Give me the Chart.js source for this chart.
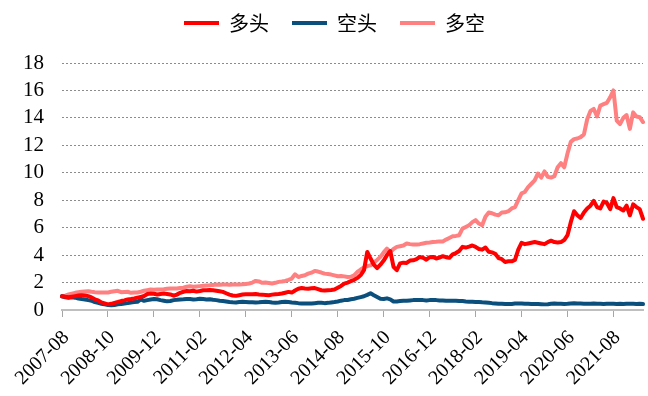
<!DOCTYPE html>
<html>
<head>
<meta charset="utf-8">
<script src="https://cdn.jsdelivr.net/npm/chart.js@4/dist/chart.umd.min.js"></script>
<style>
  html, body { margin: 0; padding: 0; background: #fff; }
  #wrap { width: 648px; height: 396px; }
</style>
</head>
<body>
<div id="wrap"><canvas id="c" width="648" height="396"></canvas></div>
<script>
// months from 2007-08, one label every 14 months is shown
const startYear = 2007, startMonth = 8, monthCount = 178;
const labels = [];
for (let i = 0; i < monthCount; i++) {
  const m = startMonth - 1 + i;
  labels.push((startYear + Math.floor(m / 12)) + "-" + String(m % 12 + 1).padStart(2, "0"));
}

// 多头
const longVals = [
  1.00, 0.96, 0.93, 0.97, 1.01, 1.05, 1.08, 1.05, 1.01, 0.92,
  0.78, 0.70, 0.55, 0.48, 0.41, 0.45, 0.52, 0.58, 0.65, 0.70,
  0.77, 0.80, 0.84, 0.90, 0.96, 1.02, 1.16, 1.20, 1.18, 1.13,
  1.17, 1.20, 1.17, 1.13, 1.04, 1.12, 1.25, 1.33, 1.38, 1.36,
  1.40, 1.34, 1.38, 1.44, 1.44, 1.46, 1.44, 1.40, 1.36, 1.32,
  1.22, 1.12, 1.06, 1.03, 1.08, 1.13, 1.15, 1.15, 1.14, 1.16,
  1.13, 1.12, 1.10, 1.08, 1.12, 1.15, 1.17, 1.20, 1.26, 1.32,
  1.27, 1.42, 1.55, 1.60, 1.57, 1.55, 1.58, 1.60, 1.52, 1.44,
  1.42, 1.44, 1.46, 1.49, 1.62, 1.75, 1.92, 2.00, 2.10, 2.20,
  2.34, 2.55, 2.90, 4.23, 3.75, 3.30, 3.05, 3.30, 3.60, 4.00,
  4.30, 3.15, 2.90, 3.40, 3.45, 3.43, 3.60, 3.62, 3.70, 3.87,
  3.80, 3.67, 3.85, 3.87, 3.75, 3.82, 3.92, 3.85, 3.80, 4.06,
  4.15, 4.30, 4.60, 4.55, 4.62, 4.70, 4.60, 4.45, 4.40, 4.55,
  4.25, 4.20, 4.10, 3.78, 3.70, 3.50, 3.55, 3.55, 3.65, 4.40,
  4.90, 4.80, 4.85, 4.90, 4.95, 4.90, 4.85, 4.80, 4.95, 5.05,
  4.95, 4.92, 4.95, 5.10, 5.45, 6.40, 7.20, 6.90, 6.70, 7.10,
  7.40, 7.60, 7.95, 7.50, 7.40, 7.90, 7.80, 7.35, 8.15, 7.50,
  7.40, 7.25, 7.60, 6.90, 7.70, 7.50, 7.35, 6.65
];

// 空头
const shortVals = [
  1.00, 0.93, 0.89, 0.92, 0.90, 0.84, 0.80, 0.77, 0.72, 0.68,
  0.58, 0.52, 0.46, 0.41, 0.37, 0.34, 0.37, 0.41, 0.43, 0.47,
  0.50, 0.55, 0.58, 0.60, 0.77, 0.67, 0.72, 0.77, 0.80, 0.78,
  0.72, 0.68, 0.63, 0.66, 0.72, 0.74, 0.77, 0.78, 0.80, 0.80,
  0.77, 0.79, 0.82, 0.80, 0.77, 0.78, 0.74, 0.72, 0.68, 0.66,
  0.62, 0.58, 0.56, 0.55, 0.58, 0.60, 0.58, 0.56, 0.57, 0.55,
  0.56, 0.58, 0.60, 0.58, 0.55, 0.53, 0.55, 0.58, 0.60, 0.58,
  0.55, 0.53, 0.50, 0.48, 0.48, 0.47, 0.48, 0.50, 0.52, 0.53,
  0.50, 0.52, 0.55, 0.58, 0.62, 0.68, 0.72, 0.73, 0.78, 0.82,
  0.88, 0.94, 1.00, 1.10, 1.22, 1.08, 0.95, 0.82, 0.80, 0.85,
  0.78, 0.62, 0.62, 0.66, 0.68, 0.68, 0.70, 0.72, 0.72, 0.73,
  0.72, 0.70, 0.72, 0.73, 0.72, 0.70, 0.70, 0.68, 0.68, 0.67,
  0.68, 0.66, 0.65, 0.62, 0.60, 0.60, 0.58, 0.58, 0.56, 0.55,
  0.53, 0.50, 0.48, 0.46, 0.45, 0.44, 0.43, 0.44, 0.47, 0.48,
  0.47, 0.46, 0.45, 0.44, 0.44, 0.43, 0.42, 0.41, 0.42, 0.45,
  0.47, 0.46, 0.45, 0.44, 0.45, 0.47, 0.49, 0.48, 0.47, 0.46,
  0.45, 0.46, 0.47, 0.46, 0.45, 0.44, 0.45, 0.46, 0.45, 0.44,
  0.45, 0.43, 0.45, 0.46, 0.45, 0.44, 0.45, 0.43
];

// 多空
const spreadVals = [
  1.00, 1.05, 1.13, 1.19, 1.25, 1.29, 1.33, 1.35, 1.37, 1.33,
  1.30, 1.28, 1.28, 1.27, 1.28, 1.33, 1.37, 1.40, 1.30, 1.32,
  1.33, 1.25, 1.27, 1.28, 1.33, 1.40, 1.45, 1.49, 1.48, 1.49,
  1.50, 1.52, 1.55, 1.57, 1.56, 1.57, 1.60, 1.62, 1.70, 1.73,
  1.69, 1.72, 1.74, 1.76, 1.78, 1.80, 1.83, 1.85, 1.84, 1.85,
  1.85, 1.84, 1.86, 1.85, 1.85, 1.87, 1.90, 1.93, 2.00, 2.12,
  2.08, 1.98, 2.00, 1.97, 1.93, 1.98, 2.05, 2.08, 2.12, 2.20,
  2.29, 2.60, 2.40, 2.48, 2.53, 2.65, 2.72, 2.85, 2.80, 2.73,
  2.65, 2.62, 2.58, 2.52, 2.46, 2.48, 2.45, 2.40, 2.42, 2.53,
  2.78, 2.95, 3.10, 3.20, 3.25, 3.45, 3.65, 3.87, 4.20, 4.47,
  4.23, 4.45, 4.60, 4.65, 4.70, 4.85, 4.80, 4.77, 4.78, 4.80,
  4.85, 4.90, 4.92, 4.95, 4.97, 5.00, 5.00, 5.13, 5.25, 5.37,
  5.40, 5.45, 5.93, 6.05, 6.17, 6.40, 6.55, 6.30, 6.18, 6.80,
  7.10, 7.05, 6.95, 6.90, 7.10, 7.12, 7.20, 7.40, 7.50, 8.00,
  8.50, 8.60, 8.95, 9.20, 9.45, 9.95, 9.65, 10.10, 9.70, 9.65,
  9.75, 10.40, 10.70, 10.40, 11.40, 12.25, 12.45, 12.50, 12.60, 12.80,
  13.90, 14.50, 14.65, 14.10, 14.90, 15.00, 15.10, 15.50, 16.00, 13.80,
  13.55, 14.00, 14.20, 13.20, 14.40, 14.10, 14.05, 13.70
];

const yTicks = [0, 2, 4, 6, 8, 10, 12, 14, 16, 18];
const labelEvery = 14;

function line(label, data, color) {
  return {
    label: label,
    data: data,
    borderColor: color,
    backgroundColor: color,
    borderWidth: 4,
    borderCapStyle: "round",
    borderJoinStyle: "round",
    pointRadius: 0,
    tension: 0,
    pointStyle: "line"
  };
}

// taller legend block (plot starts lower) and nudge the row to the right
const legendSpace = {
  id: "legendSpace",
  beforeUpdate(chart) {
    const lg = chart.legend;
    if (lg && !lg._patched) {
      const fit = lg.fit;
      lg.fit = function () {
        fit.call(this);
        this.height = 73;
        if (this.lineWidths && this.lineWidths.length) this.lineWidths[0] -= 22;
      };
      lg._patched = true;
    }
  }
};

new Chart(document.getElementById("c"), {
  type: "line",
  data: {
    labels: labels,
    datasets: [
      line("多头", longVals, "#ff0000"),
      line("空头", shortVals, "#0b4f7c"),
      line("多空", spreadVals, "#ff8080")
    ]
  },
  plugins: [legendSpace],
  options: {
    responsive: false,
    animation: false,
    layout: { padding: { left: 4, right: 5, top: -10, bottom: 0 } },
    plugins: {
      tooltip: { enabled: false },
      legend: {
        position: "top",
        labels: {
          usePointStyle: true,
          pointStyleWidth: 35,
          boxHeight: 4,
          padding: 23,
          color: "#000",
          font: { family: "'Noto Sans CJK SC'", size: 20 }
        }
      }
    },
    scales: {
      x: {
        offset: false,
        afterFit(scale) { scale.height = 86; },
        grid: {
          display: true,
          drawOnChartArea: false,
          drawTicks: true,
          tickLength: 7,
          color: "#a6a6a6",
          lineWidth: 1
        },
        border: { display: true, color: "#bfbfbf", width: 2 },
        ticks: {
          autoSkip: false,
          maxRotation: 45,
          minRotation: 45,
          padding: 9,
          labelOffset: 4,
          color: "#000",
          font: { family: "'Liberation Serif'", size: 20 },
          callback: function (v, i) {
            return i % labelEvery === 0 ? labels[i] : null;
          }
        }
      },
      y: {
        min: yTicks[0],
        max: yTicks[yTicks.length - 1],
        afterFit(scale) { scale.width = 58; },
        afterBuildTicks: function (scale) {
          scale.ticks = yTicks.map(v => ({ value: v }));
        },
        grid: {
          drawTicks: false,
          color: ctx => ctx.tick && ctx.tick.value === 0 ? "rgba(0,0,0,0)" : "#8c8c8c",
          lineWidth: 1
        },
        border: { display: false, dash: [2, 2] },
        ticks: {
          autoSkip: false,
          padding: 18,
          color: "#000",
          font: { family: "'Liberation Serif'", size: 21 }
        }
      }
    }
  }
});
</script>
</body>
</html>
